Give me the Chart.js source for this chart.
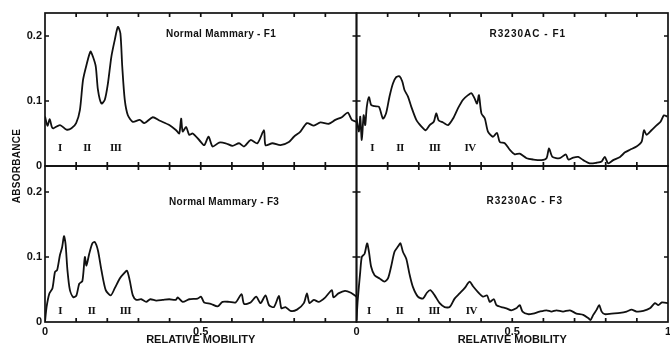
<!DOCTYPE html>
<html>
<head>
<meta charset="utf-8">
<script src="https://cdn.jsdelivr.net/npm/chart.js@4.4.1/dist/chart.umd.min.js"></script>
<style>
    html, body { margin: 0; padding: 0; background: #fff; }
    #wrap { width: 670px; height: 347px; }
</style>
</head>
<body>
<div id="wrap"><canvas id="gelScan"></canvas></div>
<script>
/*----------------------------------------------------------------*/
// scan data
const nmF1X = [0, 0.008, 0.015, 0.022, 0.027, 0.048, 0.069, 0.085, 0.10, 0.112, 0.122, 0.133, 0.146, 0.154, 0.163, 0.170, 0.181, 0.192, 0.202, 0.213, 0.224, 0.234, 0.242, 0.248, 0.256, 0.266, 0.282, 0.304, 0.319, 0.346, 0.367, 0.399, 0.421, 0.431, 0.437, 0.442, 0.453, 0.463, 0.474, 0.495, 0.511, 0.525, 0.538, 0.559, 0.580, 0.602, 0.623, 0.639, 0.660, 0.682, 0.703, 0.708, 0.730, 0.756, 0.783, 0.799, 0.820, 0.841, 0.863, 0.884, 0.911, 0.932, 0.953, 0.972, 0.985, 1.0];
const nmF1Y = [0.076, 0.062, 0.072, 0.060, 0.058, 0.063, 0.056, 0.058, 0.066, 0.086, 0.132, 0.155, 0.176, 0.168, 0.153, 0.117, 0.096, 0.102, 0.127, 0.168, 0.194, 0.214, 0.204, 0.153, 0.102, 0.078, 0.068, 0.071, 0.066, 0.075, 0.070, 0.063, 0.055, 0.050, 0.073, 0.053, 0.060, 0.048, 0.050, 0.040, 0.032, 0.045, 0.030, 0.036, 0.035, 0.031, 0.035, 0.030, 0.040, 0.035, 0.055, 0.032, 0.035, 0.032, 0.037, 0.045, 0.053, 0.066, 0.062, 0.067, 0.065, 0.071, 0.075, 0.082, 0.071, 0.068];

const rcF1X = [0, 0.008, 0.012, 0.017, 0.023, 0.028, 0.033, 0.040, 0.047, 0.058, 0.072, 0.085, 0.095, 0.106, 0.117, 0.128, 0.138, 0.147, 0.154, 0.165, 0.176, 0.192, 0.208, 0.222, 0.235, 0.248, 0.256, 0.264, 0.278, 0.294, 0.310, 0.326, 0.342, 0.358, 0.369, 0.379, 0.387, 0.393, 0.401, 0.412, 0.422, 0.438, 0.451, 0.460, 0.476, 0.492, 0.508, 0.524, 0.546, 0.567, 0.594, 0.610, 0.618, 0.629, 0.653, 0.672, 0.680, 0.696, 0.712, 0.728, 0.749, 0.771, 0.787, 0.797, 0.808, 0.824, 0.846, 0.862, 0.878, 0.899, 0.915, 0.923, 0.931, 0.947, 0.964, 0.976, 0.987, 0.998];
const rcF1Y = [0.073, 0.053, 0.076, 0.040, 0.078, 0.063, 0.091, 0.106, 0.094, 0.092, 0.091, 0.073, 0.081, 0.107, 0.127, 0.137, 0.138, 0.130, 0.117, 0.107, 0.091, 0.071, 0.061, 0.055, 0.063, 0.068, 0.081, 0.070, 0.067, 0.063, 0.073, 0.089, 0.102, 0.109, 0.112, 0.104, 0.096, 0.109, 0.081, 0.073, 0.053, 0.045, 0.051, 0.037, 0.035, 0.025, 0.018, 0.019, 0.012, 0.010, 0.009, 0.012, 0.027, 0.014, 0.012, 0.018, 0.010, 0.013, 0.014, 0.009, 0.004, 0.005, 0.007, 0.014, 0.004, 0.009, 0.014, 0.021, 0.025, 0.030, 0.037, 0.055, 0.048, 0.055, 0.063, 0.068, 0.078, 0.076];

const nmF3X = [0, 0.005, 0.014, 0.024, 0.032, 0.039, 0.048, 0.055, 0.061, 0.066, 0.072, 0.080, 0.091, 0.101, 0.110, 0.120, 0.128, 0.133, 0.142, 0.152, 0.160, 0.170, 0.181, 0.195, 0.211, 0.224, 0.240, 0.252, 0.263, 0.272, 0.282, 0.293, 0.309, 0.325, 0.338, 0.357, 0.378, 0.399, 0.420, 0.426, 0.442, 0.463, 0.490, 0.501, 0.511, 0.532, 0.554, 0.570, 0.591, 0.612, 0.631, 0.639, 0.660, 0.678, 0.692, 0.708, 0.719, 0.735, 0.751, 0.759, 0.772, 0.788, 0.809, 0.831, 0.841, 0.849, 0.863, 0.879, 0.900, 0.921, 0.926, 0.942, 0.963, 0.982, 1.0];
const nmF3Y = [0.0, 0.023, 0.044, 0.052, 0.077, 0.080, 0.103, 0.115, 0.132, 0.120, 0.080, 0.049, 0.038, 0.041, 0.059, 0.063, 0.100, 0.087, 0.105, 0.121, 0.123, 0.110, 0.080, 0.049, 0.041, 0.052, 0.067, 0.074, 0.079, 0.064, 0.041, 0.034, 0.035, 0.031, 0.035, 0.033, 0.034, 0.035, 0.034, 0.038, 0.031, 0.035, 0.036, 0.039, 0.030, 0.028, 0.024, 0.031, 0.031, 0.030, 0.043, 0.028, 0.030, 0.039, 0.029, 0.041, 0.026, 0.023, 0.040, 0.021, 0.023, 0.017, 0.019, 0.029, 0.044, 0.029, 0.034, 0.031, 0.038, 0.049, 0.038, 0.044, 0.048, 0.045, 0.039];

const rcF3X = [0, 0.004, 0.012, 0.017, 0.026, 0.034, 0.040, 0.047, 0.058, 0.074, 0.090, 0.101, 0.111, 0.122, 0.133, 0.141, 0.149, 0.160, 0.170, 0.181, 0.197, 0.213, 0.226, 0.237, 0.251, 0.267, 0.283, 0.299, 0.315, 0.331, 0.347, 0.363, 0.374, 0.390, 0.406, 0.419, 0.428, 0.441, 0.449, 0.465, 0.481, 0.497, 0.513, 0.524, 0.533, 0.551, 0.567, 0.588, 0.610, 0.626, 0.642, 0.663, 0.685, 0.706, 0.728, 0.744, 0.751, 0.760, 0.771, 0.779, 0.787, 0.797, 0.819, 0.846, 0.867, 0.883, 0.899, 0.921, 0.942, 0.958, 0.969, 0.980, 1.0];
const rcF3Y = [0.003, 0.034, 0.077, 0.100, 0.105, 0.121, 0.108, 0.085, 0.072, 0.067, 0.062, 0.067, 0.085, 0.108, 0.116, 0.121, 0.108, 0.097, 0.074, 0.054, 0.039, 0.036, 0.045, 0.049, 0.041, 0.029, 0.023, 0.023, 0.036, 0.044, 0.052, 0.062, 0.055, 0.046, 0.039, 0.041, 0.031, 0.035, 0.026, 0.023, 0.021, 0.018, 0.021, 0.026, 0.016, 0.012, 0.013, 0.016, 0.018, 0.016, 0.018, 0.016, 0.018, 0.013, 0.011, 0.006, 0.003, 0.011, 0.019, 0.026, 0.016, 0.012, 0.013, 0.014, 0.016, 0.019, 0.016, 0.017, 0.021, 0.029, 0.026, 0.030, 0.029];

// band markers (relative mobility of I, II, III, IV)
const nmF1Bands = [0.048, 0.135, 0.227];
const rcF1Bands = [0.050, 0.140, 0.251, 0.365];
const nmF3Bands = [0.049, 0.149, 0.258];
const rcF3Bands = [0.040, 0.138, 0.249, 0.369];
const bandNames = ["I", "II", "III", "IV"];

const panelTitles = ["Normal Mammary - F1", "R3230AC - F1", "Normal Mammary - F3", "R3230AC - F3"];

// axes
const yTickValues = [0, 0.1, 0.2];
const xTickValuesLeft = [0, 0.5];
const xTickValuesRight = [0, 0.5, 1];
const xMinorTicks = [0.1, 0.2, 0.3, 0.4, 0.5, 0.6, 0.7, 0.8, 0.9];
const yMinorTicks = [0.1, 0.2];

/*----------------------------------------------------------------*/
const toPoints = (xs, ys) => xs.map((x, i) => ({ x: x, y: ys[i] }));

const panels = [
    { title: panelTitles[0], xs: 'xL', ys: 'yT', bands: nmF1Bands, pts: toPoints(nmF1X, nmF1Y), tx: 0.565, ty: 0.203, bandY: 0.028, spacing: '0.3px' },
    { title: panelTitles[1], xs: 'xR', ys: 'yT', bands: rcF1Bands, pts: toPoints(rcF1X, rcF1Y), tx: 0.55, ty: 0.203, bandY: 0.028, spacing: '1px' },
    { title: panelTitles[2], xs: 'xL', ys: 'yB', bands: nmF3Bands, pts: toPoints(nmF3X, nmF3Y), tx: 0.575, ty: 0.185, bandY: 0.016, spacing: '0.3px' },
    { title: panelTitles[3], xs: 'xR', ys: 'yB', bands: rcF3Bands, pts: toPoints(rcF3X, rcF3Y), tx: 0.54, ty: 0.186, bandY: 0.016, spacing: '1px' }
];

const ink = '#111';
const labelFont = { family: 'Liberation Sans', size: 11, weight: 'bold' };

const gelFrame = {
    id: 'gelFrame',
    afterDatasetsDraw(chart) {
        const { ctx, scales } = chart;
        ctx.save();
        ctx.strokeStyle = ink;
        ctx.fillStyle = ink;
        ctx.lineWidth = 1.7;
        panels.forEach(p => {
            const xs = scales[p.xs], ys = scales[p.ys];
            ctx.strokeRect(xs.left, ys.top, xs.right - xs.left, ys.bottom - ys.top);
            ctx.beginPath();
            xMinorTicks.forEach(v => {
                const px = xs.getPixelForValue(v);
                ctx.moveTo(px, ys.top); ctx.lineTo(px, ys.top + 4);
                ctx.moveTo(px, ys.bottom); ctx.lineTo(px, ys.bottom - 4);
            });
            yMinorTicks.forEach(v => {
                const py = ys.getPixelForValue(v);
                ctx.moveTo(xs.left, py); ctx.lineTo(xs.left + 4, py);
                ctx.moveTo(xs.right, py); ctx.lineTo(xs.right - 4, py);
            });
            ctx.stroke();

            ctx.textAlign = 'center';
            ctx.textBaseline = 'middle';
            ctx.font = 'bold 10px "Liberation Sans"';
            ctx.letterSpacing = p.spacing;
            ctx.fillText(p.title, xs.getPixelForValue(p.tx), ys.getPixelForValue(p.ty));

            ctx.font = 'bold 11px "Liberation Serif"';
            ctx.letterSpacing = '-0.5px';
            p.bands.forEach((v, i) => {
                ctx.fillText(bandNames[i], xs.getPixelForValue(v), ys.getPixelForValue(p.bandY));
            });
        });
        // shared y title
        ctx.letterSpacing = '0.3px';
        ctx.font = 'bold 10px "Liberation Sans"';
        ctx.translate(17, scales.yT.bottom);
        ctx.rotate(-Math.PI / 2);
        ctx.fillText('ABSORBANCE', 0, 0);
        ctx.restore();
    }
};

const xAxis = (ticks) => ({
    type: 'linear',
    position: 'bottom',
    stack: 'x',
    min: 0,
    max: 1,
    grid: { display: false, drawTicks: false },
    border: { display: false },
    afterBuildTicks: s => { s.ticks = ticks.map(v => ({ value: v })); },
    afterFit: s => { s.height = 25; s.paddingLeft = 0; s.paddingRight = 0; },
    ticks: {
        color: ink,
        font: labelFont,
        padding: 3,
        maxRotation: 0,
        autoSkip: false,
        callback: v => (v === 0 || v === 1) ? String(v) : v.toFixed(1)
    },
    title: {
        display: true,
        text: 'RELATIVE MOBILITY',
        color: ink,
        font: labelFont,
        padding: { top: 0, bottom: 0 }
    }
});

const yAxis = (max, weight) => ({
    type: 'linear',
    position: 'left',
    stack: 'y',
    stackWeight: weight,
    min: 0,
    max: max,
    grid: { display: false, drawTicks: false },
    border: { display: false },
    afterBuildTicks: s => { s.ticks = yTickValues.map(v => ({ value: v })); },
    afterFit: s => { s.width = 45; s.paddingTop = 0; s.paddingBottom = 0; },
    ticks: {
        color: ink,
        font: labelFont,
        padding: 3,
        autoSkip: false,
        callback: v => v === 0 ? '0' : v.toFixed(1)
    }
});

new Chart(document.getElementById('gelScan'), {
    type: 'line',
    data: {
        datasets: panels.map(p => ({
            label: p.title,
            data: p.pts,
            xAxisID: p.xs,
            yAxisID: p.ys,
            borderColor: ink,
            borderWidth: 1.8,
            pointRadius: 0,
            tension: 0.25,
            fill: false
        }))
    },
    options: {
        responsive: true,
        maintainAspectRatio: false,
        animation: false,
        layout: { padding: { top: 13, right: 2, left: 0, bottom: 0 } },
        plugins: {
            legend: { display: false },
            tooltip: { enabled: false }
        },
        // left-hand stacked axes are laid out last-first, so the lower panel is listed first
        scales: {
            xL: xAxis(xTickValuesLeft),
            xR: xAxis(xTickValuesRight),
            yB: yAxis(0.24, 156),
            yT: yAxis(0.2354, 153)
        }
    },
    plugins: [gelFrame]
});
</script>
</body>
</html>
